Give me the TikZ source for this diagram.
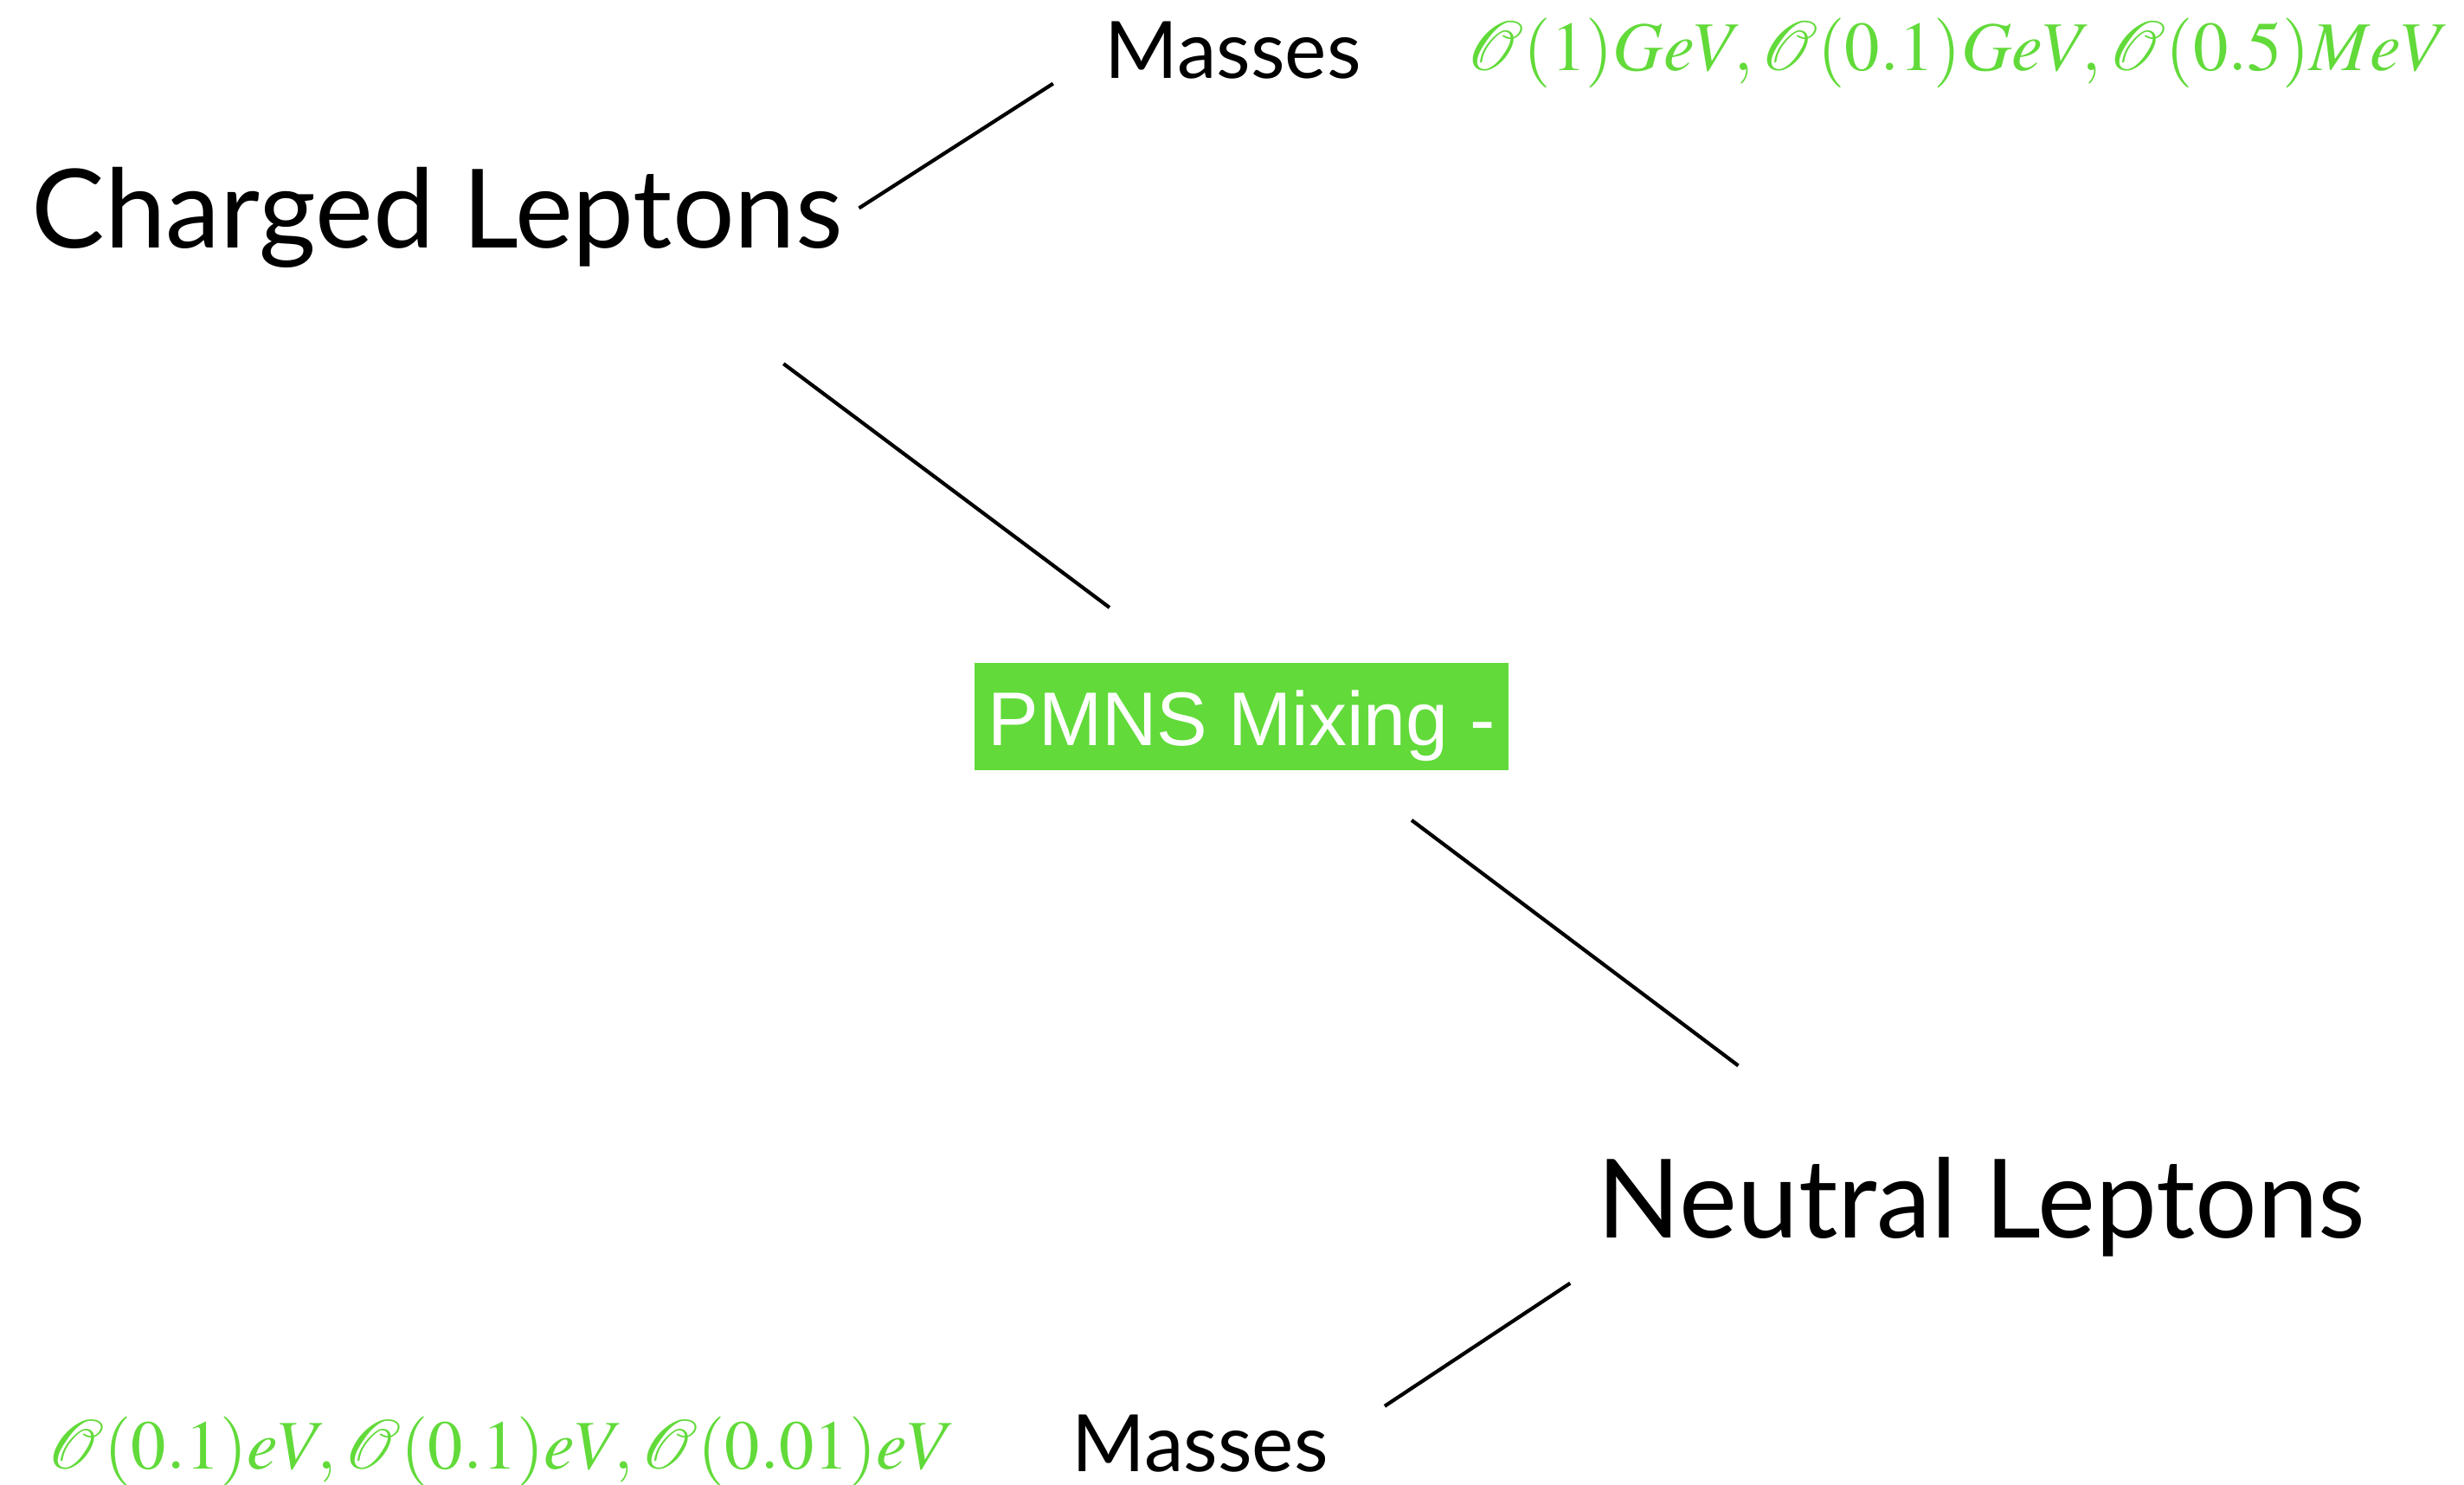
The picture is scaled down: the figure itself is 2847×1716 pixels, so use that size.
\documentclass[tikz,border=0pt]{standalone}
\usepackage{mathptmx}
\usepackage[no-math]{fontspec}
\usetikzlibrary{calc}
\newfontfamily\labelfont{Lato}
\newfontfamily\boxfont{Liberation Sans}
\definecolor{pmnsgreen}{RGB}{98,218,58}

\begin{document}
\begin{tikzpicture}[x=0.01cm,y=-0.01cm,
    big/.style={anchor=base west,inner sep=0pt,font=\labelfont\fontsize{36}{40}\selectfont},
    small/.style={anchor=base west,inner sep=0pt,font=\labelfont\fontsize{26}{30}\selectfont},
    value/.style={anchor=base west,inner sep=0pt,text=pmnsgreen},
    mixbox/.style={fill=pmnsgreen,text=white,inner sep=0pt,minimum width=6.17cm,
      minimum height=1.24cm,text height=19.3pt,text depth=0pt,
      font=\boxfont\fontsize{25}{30}\selectfont},
    link/.style={line width=1.2pt}]
  \useasboundingbox (0,0) rectangle (2847,1716);
  % labels
  \node[big] (charged) at (36,287) {Charged Leptons};
  \node[small] (massC) at (1276,91) {Masses};
  \node[value] (valC) at (1694,82)
    {\resizebox{11.35cm}{!}{$\mathcal{O}(1)GeV, \mathcal{O}(0.1)GeV, \mathcal{O}(0.5)MeV$}};
  \node[mixbox] (pmns) at (1434.5,828) {PMNS Mixing -};
  \node[big] (neutral) at (1845,1431) {Neutral Leptons};
  \node[small] (massN) at (1238,1700) {Masses};
  \node[value] (valN) at (54,1697)
    {\resizebox{10.48cm}{!}{$\mathcal{O}(0.1)eV, \mathcal{O}(0.1)eV, \mathcal{O}(0.01)eV$}};
  % connectors
  \draw[link,shorten <=6pt,shorten >=20pt] (charged.east) -- (massC.west);
  \draw[link,shorten <=52pt,shorten >=30pt]
    ($(charged.south west)!0.77!(charged.south east)$) --
    ($(pmns.north west)!0.39!(pmns.north east)$);
  \draw[link,shorten <=27pt,shorten >=50pt]
    ($(pmns.south west)!0.695!(pmns.south east)$) --
    ($(neutral.north west)!0.342!(neutral.north east)$);
  \draw[link,shorten <=10.5pt,shorten >=22pt]
    ($(neutral.south west)+(0,9)$) -- (massN.east);
\end{tikzpicture}
\end{document}
